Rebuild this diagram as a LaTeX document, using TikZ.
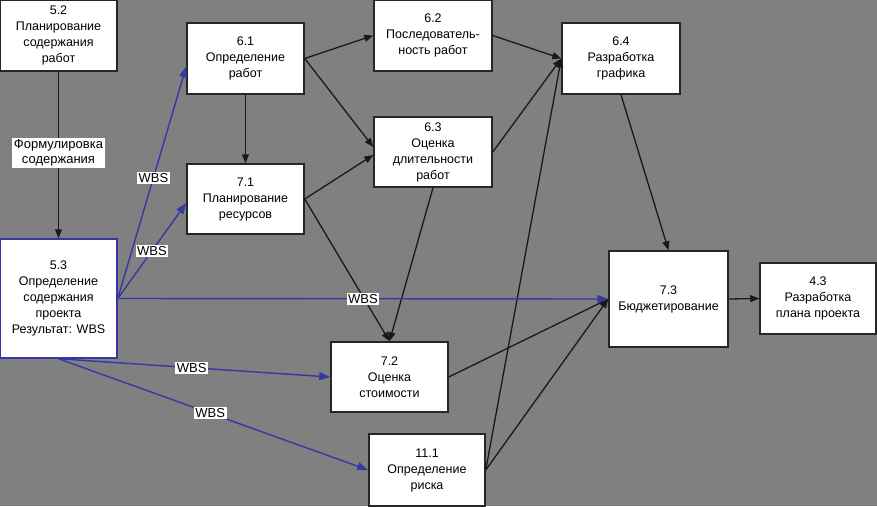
\documentclass[tikz,border=0pt]{standalone}
\usepackage{fontspec}
\setmainfont{Liberation Sans}
\usetikzlibrary{arrows.meta,calc}
\definecolor{bg}{RGB}{128,128,128}
\definecolor{wbs}{RGB}{55,55,165}
\begin{document}
\begin{tikzpicture}[x=1pt,y=-1pt,
 box/.style={draw=black!85, line width=1.5pt, fill=white, align=center, inner sep=2pt, font=\fontsize{12.5}{16}\selectfont, anchor=center},
 conn/.style={draw=black!90, line width=1.3pt, -{Triangle[length=9pt,width=7pt]}},
 wbsline/.style={draw=wbs, line width=1.4pt, -{Triangle[length=11pt,width=8pt]}},
 lbl/.style={fill=white, inner sep=1.5pt, font=\fontsize{13}{15}\selectfont, text=black, align=center}]
\fill[bg] (0,0) rectangle (877,506);
\useasboundingbox (0,0) rectangle (877,506);

\node[box, minimum width=117pt, minimum height=71pt] (n52) at (58.5,35.5) {5.2\\Планирование\\содержания\\работ};
\node[box, minimum width=117pt, minimum height=71pt] (n61) at (245.5,58.5) {6.1\\Определение\\работ};
\node[box, minimum width=117pt, minimum height=70pt] (n71) at (245.5,199) {7.1\\Планирование\\ресурсов};
\node[box, minimum width=118pt, minimum height=71pt] (n62) at (433,35.5) {6.2\\Последователь-\\ность работ};
\node[box, minimum width=118pt, minimum height=70pt] (n63) at (433,152) {6.3\\Оценка\\длительности\\работ};
\node[box, minimum width=118pt, minimum height=71pt] (n64) at (621,58.5) {6.4\\Разработка\\графика};
\node[box, draw=wbs, minimum width=117pt, minimum height=119pt] (n53) at (58.5,298.5) {5.3\\Определение\\содержания\\проекта\\Результат: WBS};
\node[box, minimum width=117pt, minimum height=70pt] (n72) at (389.5,377) {7.2\\Оценка\\стоимости};
\node[box, minimum width=116pt, minimum height=72pt] (n111) at (427,470) {11.1\\Определение\\риска};
\node[box, minimum width=119pt, minimum height=96pt] (n73) at (668.5,299) {7.3\\Бюджетирование};
\node[box, minimum width=116pt, minimum height=71pt] (n43) at (818,298.5) {4.3\\Разработка\\плана проекта};

% black connectors
\draw[conn] (n52.south) -- node[lbl, pos=0.49] {Формулировка\\содержания} (n53.north);
\draw[conn] (n61.south) -- (n71.north);
\draw[conn] (n61.east) -- (n62.west);
\draw[conn] (n61.east) -- ($(n63.west)+(0,-5)$);
\draw[conn] (n71.east) -- ($(n63.west)+(0,3)$);
\draw[conn] (n71.east) -- (n72.north);
\draw[conn] (n63.south) -- (n72.north);
\draw[conn] (n62.east) -- (n64.west);
\draw[conn] (n63.east) -- (n64.west);
\draw[conn] (n111.east) -- (n64.west);
\draw[conn] (n111.east) -- (n73.west);
\draw[conn] (n72.east) -- (n73.west);
\draw[conn] (n64.south) -- (n73.north);
\draw[conn] (n73.east) -- (n43.west);

% blue WBS connectors
\draw[wbsline] (n53.east) -- node[lbl, pos=0.52] {WBS} ($(n61.west)+(0,8)$);
\draw[wbsline] (n53.east) -- node[lbl, pos=0.5] {WBS} ($(n71.west)+(0,4)$);
\draw[wbsline] (n53.east) -- node[lbl, pos=0.5] {WBS} (n73.west);
\draw[wbsline] (n53.south) -- node[lbl, pos=0.49] {WBS} (n72.west);
\draw[wbsline] (n53.south) -- node[lbl, pos=0.49] {WBS} (n111.west);
\end{tikzpicture}
\end{document}
